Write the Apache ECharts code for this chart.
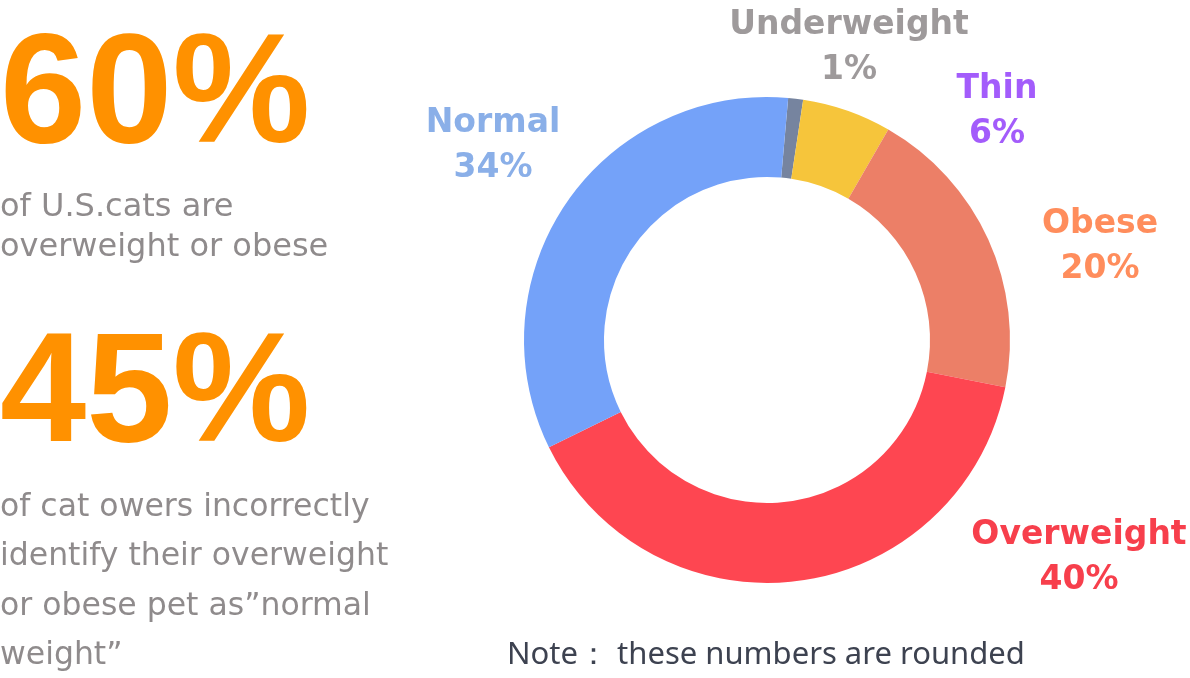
<!DOCTYPE html>
<html>
<head>
<meta charset="utf-8">
<title>Cat weight survey</title>
<script src="https://cdn.jsdelivr.net/npm/echarts@6/dist/echarts.min.js"></script>
<style>
  html, body { margin: 0; padding: 0; background: #ffffff; }
  #chart { width: 1190px; height: 678px; }
</style>
</head>
<body>
<div id="chart"></div>
<script>
// ---- data ----
const categories = ['Underweight', 'Thin', 'Obese', 'Overweight', 'Normal'];
const shares = [1, 6, 20, 40, 34];            // percent of U.S. cats
const headlineStats = ['60%', '45%'];
const statNotes = [
  'of U.S.cats are\noverweight or obese',
  'of cat owers incorrectly\nidentify their overweight\nor obese pet as\u201dnormal\nweight\u201d'
];
const footNote = 'Note\uFF1A these numbers are rounded';

// ---- styles ----
const sliceColors = ['#76849F', '#F6C53B', '#EC7F67', '#FE4651', '#74A2F9'];
const labelColors = ['#9E9A9B', '#A35CFB', '#FF8D5C', '#F73F4C', '#8AAFE8'];
const pieCenter = [767, 340];
// label anchor offsets from the ring centre, one per category
const labelSpots = [[82, -292], [230, -228], [333, -93], [312, 218], [-274, -194]];

const orange = '#FF9100';
const bodyGrey = '#8F8B8C';

const chart = echarts.init(document.getElementById('chart'), null, { renderer: 'canvas' });

const pieData = categories.map((name, i) => ({
  name: name,
  value: shares[i],
  itemStyle: { color: sliceColors[i] },
  label: { color: labelColors[i] }
}));

chart.setOption({
  animation: false,
  backgroundColor: '#ffffff',
  graphic: [
    {
      type: 'text', x: 0, y: 99,
      style: {
        text: headlineStats[0], fill: orange,
        font: 'bold 155px "Liberation Sans", Arial, sans-serif',
        align: 'left', verticalAlign: 'middle'
      }
    },
    {
      type: 'text', x: 0, y: 188,
      style: {
        text: statNotes[0], fill: bodyGrey,
        font: '32px "DejaVu Sans", sans-serif', lineHeight: 40,
        align: 'left', verticalAlign: 'top'
      }
    },
    {
      type: 'text', x: 0, y: 398,
      style: {
        text: headlineStats[1], fill: orange,
        font: 'bold 155px "Liberation Sans", Arial, sans-serif',
        align: 'left', verticalAlign: 'middle'
      }
    },
    {
      type: 'text', x: 0, y: 483,
      style: {
        text: statNotes[1], fill: bodyGrey,
        font: '31.5px "DejaVu Sans", sans-serif', lineHeight: 49.5,
        align: 'left', verticalAlign: 'top'
      }
    },
    {
      type: 'text', x: 507, y: 655,
      style: {
        text: footNote, fill: '#3D4250',
        font: '31px "Noto Sans", sans-serif',
        align: 'left', verticalAlign: 'middle'
      }
    }
  ],
  series: [{
    type: 'pie',
    center: pieCenter,
    radius: [163, 243],
    startAngle: 85,
    clockwise: true,
    silent: true,
    label: {
      show: true,
      position: 'outside',
      formatter: '{b}\n{c}%',
      fontFamily: '"DejaVu Sans", sans-serif',
      fontWeight: 'bold',
      fontSize: 33,
      lineHeight: 45,
      align: 'center'
    },
    labelLine: { show: false },
    labelLayout: function (params) {
      const spot = labelSpots[params.dataIndex];
      return {
        x: pieCenter[0] + spot[0],
        y: pieCenter[1] + spot[1],
        align: 'center',
        verticalAlign: 'middle'
      };
    },
    emphasis: { disabled: true },
    data: pieData
  }]
});
</script>
</body>
</html>
